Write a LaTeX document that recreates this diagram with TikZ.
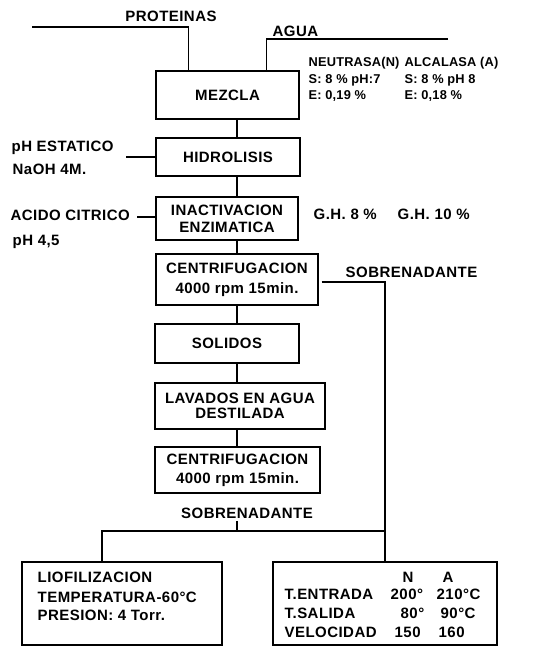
\documentclass[tikz,border=0pt]{standalone}
\usepackage{fontspec}
\newfontfamily\lf{Liberation Sans}[LetterSpace=3]
\newfontfamily\lfs{Liberation Sans}[LetterSpace=1.5]
\usetikzlibrary{calc}
\begin{document}
\begin{tikzpicture}[x=1pt,y=-1pt,line width=1.4pt,
  box/.style={draw,inner sep=0pt,align=center,font=\lf\bfseries\fontsize{15}{#1}\selectfont},
  box/.default=18,
  lbl/.style={inner sep=0pt,font=\lf\bfseries\fontsize{15}{16}\selectfont},
  lw/.style={lbl,anchor=base west},
  lc/.style={lbl,anchor=base},
  tw/.style={inner sep=0pt,anchor=base west,font=\lfs\bfseries\fontsize{12.8}{14}\selectfont}]
\useasboundingbox (0,0) rectangle (557,647);
\fill[white] (0,0) rectangle (557,647);

% main boxes
\node[box,minimum width=143pt,minimum height=48pt] (mez) at (227.5,95) {MEZCLA};
\node[box,minimum width=144pt,minimum height=38pt] (hid) at (228,157) {HIDROLISIS};
\node[box=17,minimum width=142pt,minimum height=43pt] (ina) at (227,218.5) {INACTIVACION\\ENZIMATICA};
\node[box=20,minimum width=162pt,minimum height=51pt] (cen1) at (237,279.5) {CENTRIFUGACION\\4000 rpm 15min.};
\node[box,minimum width=144pt,minimum height=39pt] (sol) at (227,343.5) {SOLIDOS};
\node[box=15.5,minimum width=170pt,minimum height=46pt] (lav) at (240,406) {LAVADOS EN AGUA\\DESTILADA};
\node[box=19,minimum width=165pt,minimum height=46pt] (cen2) at (237.5,470) {CENTRIFUGACION\\4000 rpm 15min.};
\node[draw,inner sep=0pt,minimum width=200pt,minimum height=83pt] (liof) at (122,603.5) {};
\node[draw,inner sep=0pt,minimum width=224pt,minimum height=83pt] (spray) at (385,603.5) {};

% labels
\node[lc] (prot) at (171,22) {PROTEINAS};
\node[lw] (agua) at (272,37) {AGUA};
\node[tw] (neu) at (308,67) {NEUTRASA(N)};
\node[tw] (neus) at (308,84) {S: 8 \% pH:7};
\node[tw] (neue) at (308,100) {E: 0,19 \%};
\node[tw] (alc) at (404,67) {ALCALASA (A)};
\node[tw] (alcs) at (404,84) {S: 8 \% pH 8};
\node[tw] (alce) at (404,100) {E: 0,18 \%};
\node[lw] (phe) at (11,152) {pH ESTATICO};
\node[lw] (naoh) at (12,175) {NaOH 4M.};
\node[lw] (acido) at (10,220) {ACIDO CITRICO};
\node[lw] (ph45) at (12,245) {pH 4,5};
\node[lw] (gh8) at (313,219) {G.H. 8 \%};
\node[lw] (gh10) at (397,219) {G.H. 10 \%};
\node[lw] (sob1) at (345,277) {SOBRENADANTE};
\node[lc] (sob2) at (247,518) {SOBRENADANTE};
\node[lw] (l1) at (37,582) {LIOFILIZACION};
\node[lw] (l2) at (37,602) {TEMPERATURA-60°C};
\node[lw] (l3) at (37,620) {PRESION: 4 Torr.};
\node[lc] (hn) at (408,582) {N};
\node[lc] (ha) at (448,582) {A};
\node[lw] (r1) at (284,599) {T.ENTRADA};
\node[lw] (r1a) at (390,599) {200°};
\node[lw] (r1b) at (436,599) {210°C};
\node[lw] (r2) at (284,618) {T.SALIDA};
\node[lw] (r2a) at (400,618) {80°};
\node[lw] (r2b) at (440,618) {90°C};
\node[lw] (r3) at (284,637) {VELOCIDAD};
\node[lw] (r3a) at (394,637) {150};
\node[lw] (r3b) at (438,637) {160};

% coordinates
\coordinate (sp) at (237,0);
\coordinate (pl) at (32,27);
\coordinate (ar) at (448,39);
\coordinate (phl) at (126,157);
\coordinate (acl) at (137,217);
\coordinate (jn) at (237,531);

% connectors
\draw (pl) -| ($(mez.north west)+(33,0)$);
\draw (ar) -| ($(mez.north west)+(111,0)$);
\draw (mez.south -| sp) -- (hid.north -| sp);
\draw (hid.south -| sp) -- (ina.north -| sp);
\draw (ina.south -| sp) -- (cen1.north -| sp);
\draw (cen1.south -| sp) -- (sol.north -| sp);
\draw (sol.south -| sp) -- (lav.north -| sp);
\draw (lav.south -| sp) -- (cen2.north -| sp);
\draw (phl) -- (hid.west |- phl);
\draw (acl) -- (ina.west |- acl);
\draw ($(cen1.east)+(3,2.5)$) -| (spray.north);
\draw ($(sob2.south -| sp)+(0,2)$) -- (jn);
\draw ($(liof.north)+(-20,0)$) |- (jn -| spray.north);
\end{tikzpicture}
\end{document}
